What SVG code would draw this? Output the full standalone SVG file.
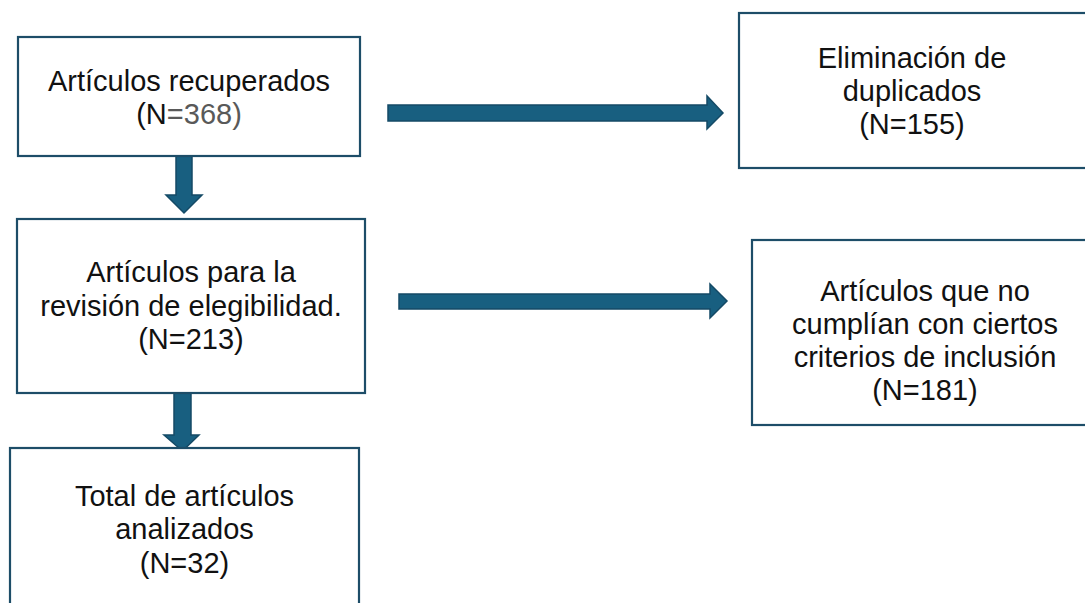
<svg xmlns="http://www.w3.org/2000/svg" width="1085" height="603" viewBox="0 0 1085 603">
<style>
.box{fill:#ffffff;stroke:#1d4d68;stroke-width:2.2}
.t{font-family:"Liberation Sans",Arial,sans-serif;font-size:29px;fill:#111111;text-anchor:middle}
.g{fill:#595959}
.arr{fill:#185f80;stroke:#144a66;stroke-width:1.5;stroke-linejoin:miter}
</style>
<rect width="1085" height="603" fill="#ffffff"/>
<g id="connectors">
<polygon class="arr" points="176,156 192,156 192,195 202,195 184,213 166,195 176,195"/>
<polygon class="arr" points="174,393 191,393 191,435 199,435 182.5,451 164,435 174,435"/>
<polygon class="arr" points="388,105 707,105 707,96 723,113 707,129 707,121 388,121"/>
<polygon class="arr" points="399,294 710,294 710,284 727,301 710,318 710,309 399,309"/>
</g>
<g id="n1">
<rect class="box" x="18" y="37" width="342" height="119"/>
<text class="t" x="189" y="91">Artículos recuperados</text>
<text class="t" x="189" y="124">(N<tspan class="g">=368)</tspan></text>
</g>
<g id="n2">
<rect class="box" x="17" y="219" width="348" height="174"/>
<text class="t" x="191" y="282">Artículos para la</text>
<text class="t" x="191" y="316">revisión de elegibilidad.</text>
<text class="t" x="191" y="349">(N=213)</text>
</g>
<g id="n3">
<rect class="box" x="10" y="448" width="349" height="170"/>
<text class="t" x="184.5" y="506">Total de artículos</text>
<text class="t" x="184.5" y="539">analizados</text>
<text class="t" x="184.5" y="573">(N=32)</text>
</g>
<g id="n4">
<rect class="box" x="739" y="13" width="350" height="155"/>
<text class="t" x="912" y="68">Eliminación de</text>
<text class="t" x="912" y="101">duplicados</text>
<text class="t" x="912" y="134">(N=155)</text>
</g>
<g id="n5">
<rect class="box" x="752" y="240" width="350" height="185"/>
<text class="t" x="925" y="301">Artículos que no</text>
<text class="t" x="925" y="334">cumplían con ciertos</text>
<text class="t" x="925" y="367">criterios de inclusión</text>
<text class="t" x="925" y="400">(N=181)</text>
</g>
</svg>
